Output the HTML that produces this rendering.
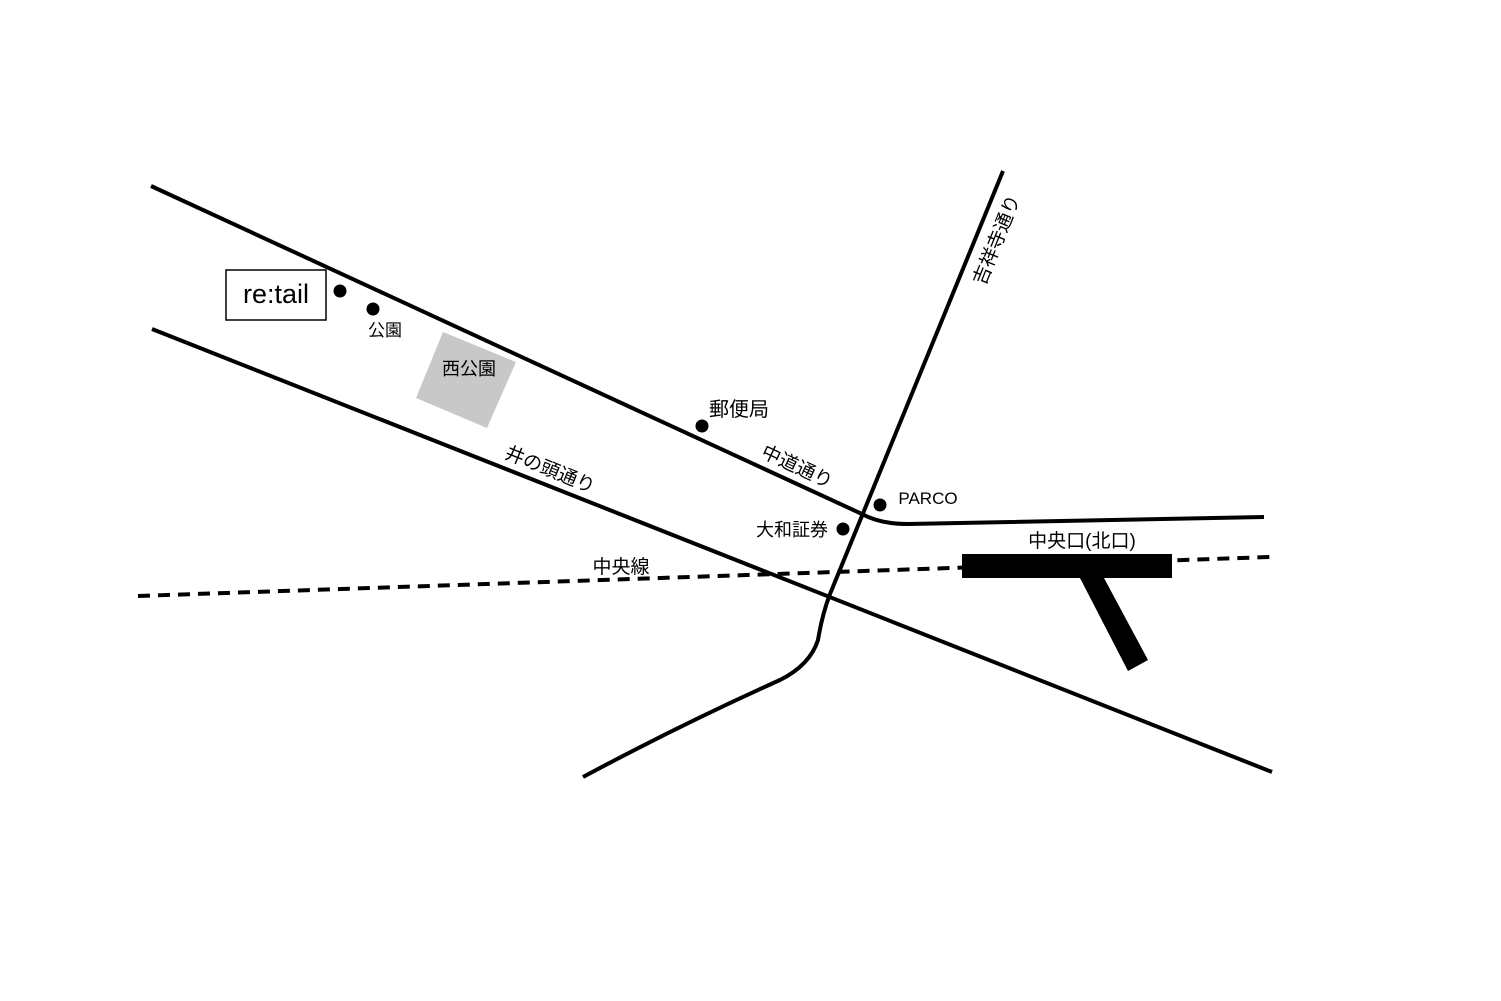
<!DOCTYPE html>
<html><head><meta charset="utf-8"><style>html,body{margin:0;padding:0;background:#fff}svg{display:block}text{font-family:"Liberation Sans","Noto Sans CJK JP",sans-serif;fill:#000}</style></head><body>
<svg width="1501" height="1001" viewBox="0 0 1501 1001" xmlns="http://www.w3.org/2000/svg">
<polygon points="443,332 516,362 487,428 416,398" fill="#c8c8c8"/>
<g fill="none" stroke="#000" stroke-width="4">
<path d="M151,186 L862,514 Q880,524 908,524 L1264,517"/>
<path d="M152,329 L1272,772"/>
<path d="M1003,171 L830,594 Q822,615 818,640 Q810,665 780,680 Q680,725 583,777"/>
<path d="M138,596 L1270,557" stroke-dasharray="12,8"/>
</g>
<rect x="962" y="554" width="210" height="24" fill="#000"/>
<polygon points="1080,578 1104,578 1148,660 1128,671" fill="#000"/>
<g fill="#000"><circle cx="340" cy="291" r="6.5"/><circle cx="373" cy="309" r="6.5"/><circle cx="702" cy="426" r="6.5"/><circle cx="880" cy="505" r="6.5"/><circle cx="843" cy="529" r="6.5"/></g>
<rect x="226" y="270" width="100" height="50" fill="#fff" stroke="#000" stroke-width="1.5"/>
<text x="276" y="303" font-size="27" text-anchor="middle">re:tail</text>
<text x="385" y="336" font-size="17" text-anchor="middle">公園</text>
<text x="469" y="375" font-size="18" text-anchor="middle">西公園</text>
<text x="739" y="416" font-size="20" text-anchor="middle">郵便局</text>
<text x="797" y="473" font-size="19" text-anchor="middle" transform="rotate(25 797 467)">中道通り</text>
<text x="550" y="476" font-size="19" text-anchor="middle" transform="rotate(22 550 470)">井の頭通り</text>
<text x="621" y="573" font-size="19" text-anchor="middle">中央線</text>
<text x="928" y="504" font-size="17" text-anchor="middle">PARCO</text>
<text x="792" y="536" font-size="18" text-anchor="middle">大和証券</text>
<text x="1082" y="547" font-size="19" text-anchor="middle">中央口(北口)</text>
<text x="997" y="246" font-size="19" text-anchor="middle" transform="rotate(-68 997 240)">吉祥寺通り</text>
</svg>
</body></html>
